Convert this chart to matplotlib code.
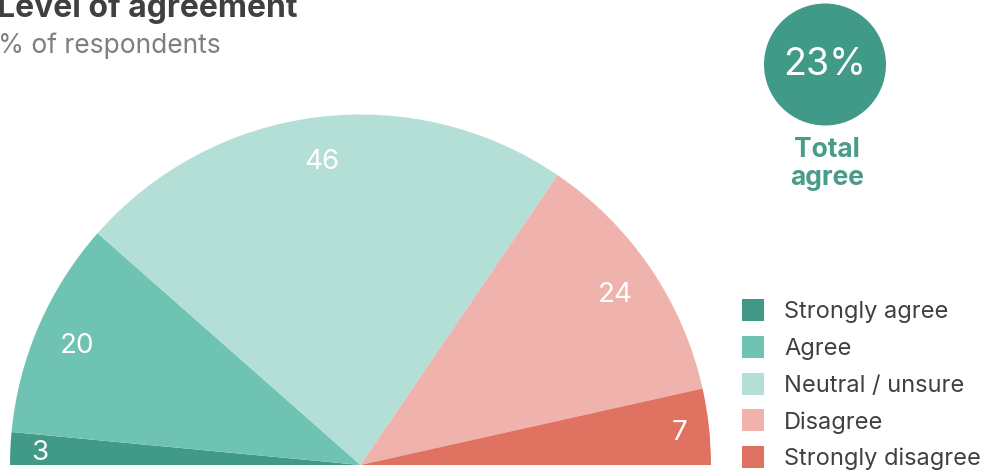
import numpy as np
import matplotlib
matplotlib.use("Agg")
import matplotlib.pyplot as plt
from matplotlib.patches import Rectangle, Circle

# survey shares, left to right around the half circle
categories = ["Strongly agree", "Agree", "Neutral / unsure", "Disagree", "Strongly disagree"]
values = [3, 20, 46, 24, 7]
colors = ["#419A87", "#6EC3B2", "#B3DFD6", "#EFB2AC", "#E07262"]
total_agree = values[0] + values[1]

plt.rcParams["font.family"] = ["Inter", "DejaVu Sans"]

fig = plt.figure(figsize=(9.84, 4.73), dpi=100)
ax = fig.add_axes([0, 0, 1, 1])

# half pie: the extra hidden wedge takes up the lower half
cx, cy, r = 360.5, 8, 350.5
wedges, _ = ax.pie(values + [sum(values)], colors=colors + ["white"], startangle=180,
                   counterclock=False, center=(cx, cy), radius=r, frame=True,
                   wedgeprops=dict(linewidth=0))
wedges[-1].set_visible(False)
ax.set_xlim(0, 984)
ax.set_ylim(0, 473)
ax.set_aspect("equal")
ax.axis("off")

for w, v in zip(wedges[:-1], values):
    mid = np.deg2rad((w.theta1 + w.theta2) / 2)
    d = 0.915 if v < 10 else 0.88
    ax.text(cx + d * r * np.cos(mid), cy + d * r * np.sin(mid) - 3, str(v),
            ha="center", va="center", color="white", fontsize=20)

# titles
ax.text(-3, 456, "Level of agreement", fontsize=23, fontweight="bold",
        color="#404040", ha="left", va="baseline")
ax.text(-2, 420, "% of respondents", fontsize=19, color="#7F7F7F",
        ha="left", va="baseline")

# total agree badge
ax.add_patch(Circle((825, 408.5), 61, color=colors[0], lw=0))
ax.text(825, 408, f"{total_agree}%", fontsize=27, color="white",
        ha="center", va="center")
ax.text(827, 316, "Total", fontsize=19, fontweight="bold", color="#4A9C8A",
        ha="center", va="baseline")
ax.text(827, 288, "agree", fontsize=19, fontweight="bold", color="#4A9C8A",
        ha="center", va="baseline")

# legend
for i, (lab, c) in enumerate(zip(categories, colors)):
    y = 163 - i * 36.8
    ax.add_patch(Rectangle((742, y - 11), 22, 22, color=c, lw=0))
    ax.text(784, y - 2, lab, fontsize=17, color="#404040", ha="left", va="center")

fig.savefig("out.png", dpi=100)
